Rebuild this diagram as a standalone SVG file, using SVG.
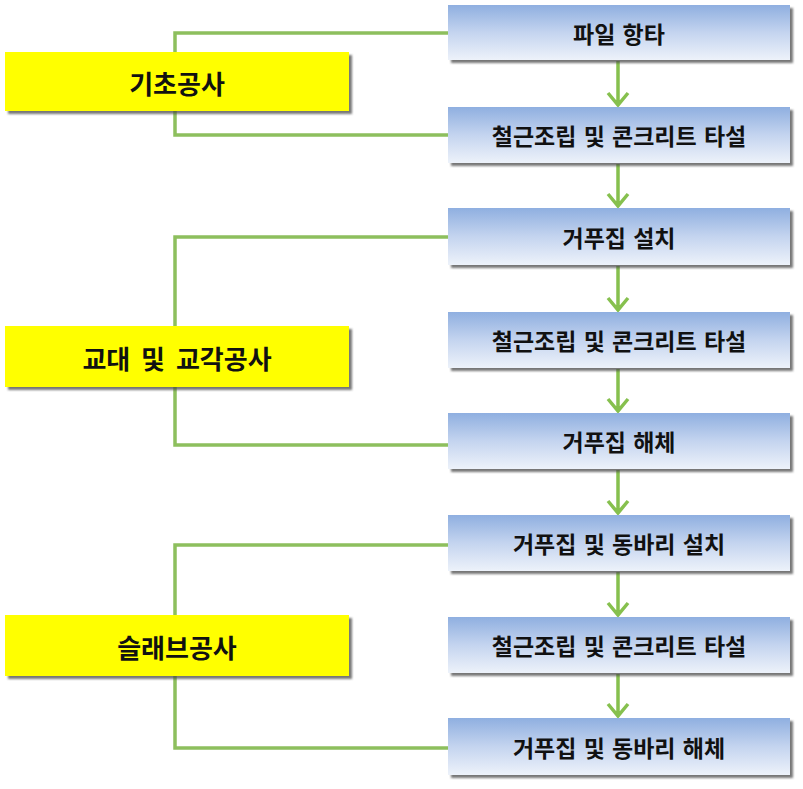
<svg xmlns="http://www.w3.org/2000/svg" width="803" height="789" viewBox="0 0 803 789">
<defs>
<linearGradient id="blueGrad" x1="0" y1="0" x2="0" y2="1">
<stop offset="0" stop-color="#8fafe0"/>
<stop offset="0.5" stop-color="#c4d4ef"/>
<stop offset="1" stop-color="#edf2fa"/>
</linearGradient>
<filter id="shadow" x="-5%" y="-10%" width="115%" height="130%">
<feDropShadow dx="3" dy="3" stdDeviation="1.2" flood-color="#4a4a4a" flood-opacity="0.75"/>
</filter>
</defs>
<style>
.step rect { fill: url(#blueGrad); filter: url(#shadow); }
.phase rect { fill: #ffff00; filter: url(#shadow); }
text { font-family: "Noto Sans CJK KR", "Noto Sans", sans-serif; font-weight: bold; fill: #111; text-anchor: middle; dominant-baseline: central; }
.step text { font-size: 23px; word-spacing: 2px; }
.phase text { font-size: 26px; word-spacing: 5px; }
.bracket { fill: none; stroke: #8dbf5d; stroke-width: 3.5; }
.arrow { fill: none; stroke: #86c04e; stroke-width: 3.5; }
</style>
<rect width="803" height="789" fill="#ffffff"/>
<g id="connectors">
<path class="bracket" d="M448,33 H175 V135 H448"/>
<path class="bracket" d="M448,237 H175 V445 H448"/>
<path class="bracket" d="M448,545 H175 V748 H448"/>
<path class="arrow" d="M618,61 V104 M608,93 L618,105 L628,93"/>
<path class="arrow" d="M618,164 V205 M608,194 L618,206 L628,194"/>
<path class="arrow" d="M618,266 V309 M608,298 L618,310 L628,298"/>
<path class="arrow" d="M618,369 V410 M608,399 L618,411 L628,399"/>
<path class="arrow" d="M618,470 V512 M608,501 L618,513 L628,501"/>
<path class="arrow" d="M618,572 V614 M608,603 L618,615 L628,603"/>
<path class="arrow" d="M618,674 V715 M608,704 L618,716 L628,704"/>
</g>
<g id="phase1" class="phase"><rect x="5" y="52" width="344" height="59"/><text x="177" y="82">기초공사</text></g>
<g id="phase2" class="phase"><rect x="5" y="326" width="344" height="61"/><text x="177" y="357">교대 및 교각공사</text></g>
<g id="phase3" class="phase"><rect x="5" y="615" width="344" height="61"/><text x="177" y="646">슬래브공사</text></g>
<g id="step1" class="step"><rect x="448" y="5" width="342" height="55"/><text x="619" y="33">파일 항타</text></g>
<g id="step2" class="step"><rect x="448" y="107" width="342" height="56"/><text x="619" y="135">철근조립 및 콘크리트 타설</text></g>
<g id="step3" class="step"><rect x="448" y="208" width="342" height="57"/><text x="619" y="237">거푸집 설치</text></g>
<g id="step4" class="step"><rect x="448" y="312" width="342" height="56"/><text x="619" y="340">철근조립 및 콘크리트 타설</text></g>
<g id="step5" class="step"><rect x="448" y="413" width="342" height="56"/><text x="619" y="441">거푸집 해체</text></g>
<g id="step6" class="step"><rect x="448" y="515" width="342" height="56"/><text x="619" y="543">거푸집 및 동바리 설치</text></g>
<g id="step7" class="step"><rect x="448" y="617" width="342" height="56"/><text x="619" y="645">철근조립 및 콘크리트 타설</text></g>
<g id="step8" class="step"><rect x="448" y="718" width="342" height="57"/><text x="619" y="747">거푸집 및 동바리 해체</text></g>
</svg>
